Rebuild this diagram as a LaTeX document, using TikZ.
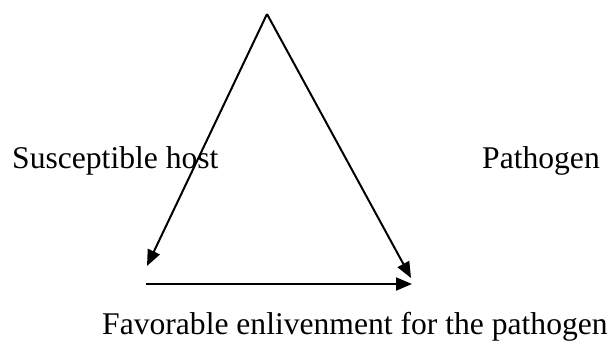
\documentclass[tikz,border=0pt]{standalone}
\usepackage{fontspec}
\setmainfont{Liberation Serif}
\usetikzlibrary{arrows.meta}
\tikzset{flow/.style={-{Triangle[length=16pt,width=13pt]},line width=2pt,black},
  labeltext/.style={anchor=base west,inner sep=0pt,font=\fontsize{31.6}{38}\selectfont}}

\begin{document}
\begin{tikzpicture}[x=1pt,y=-1pt]
\useasboundingbox (0,0) rectangle (613,343);
\coordinate (apex) at (267,14);
\coordinate (hostend) at (147,266);
\coordinate (pathend) at (411,278);
\coordinate (envstart) at (146,284);
\coordinate (envend) at (412,284);
\node[labeltext] (host) at (12,168) {Susceptible host};
\node[labeltext] (path) at (482,168) {Pathogen};
\node[labeltext] (env) at (102,334) {Favorable enlivenment for the pathogen};
\draw[flow] (apex) -- (hostend); \draw[flow] (apex) -- (pathend); \draw[flow] (envstart) -- (envend);
\end{tikzpicture}
\end{document}
